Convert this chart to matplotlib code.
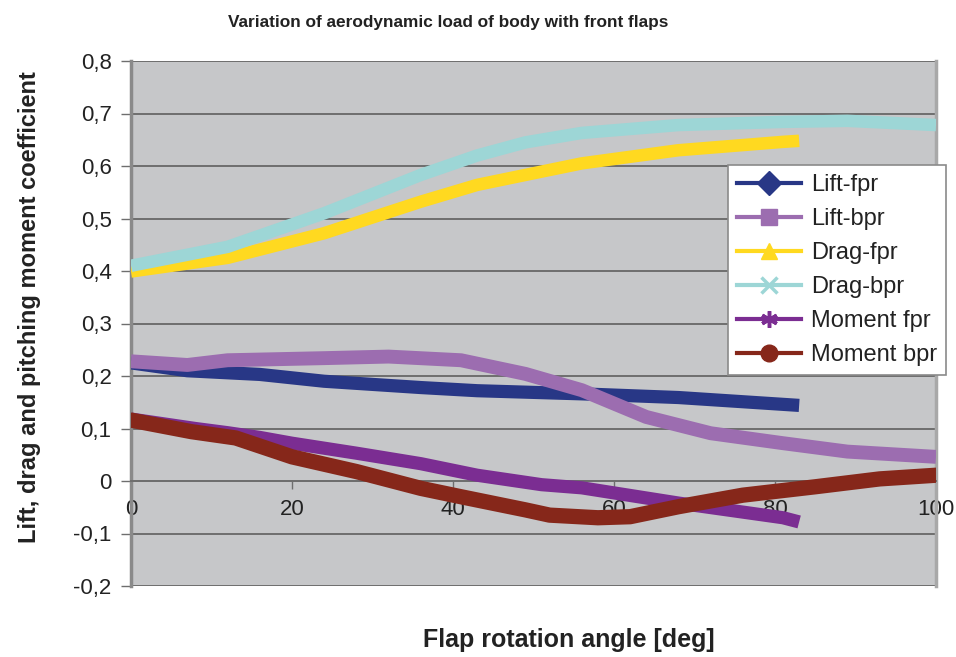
import matplotlib
matplotlib.use("Agg")
import matplotlib.pyplot as plt
from matplotlib.lines import Line2D

lift_fpr_x = [0, 7, 16, 24, 36, 43, 56, 68, 80, 83]
lift_fpr_y = [0.225, 0.210, 0.203, 0.190, 0.178, 0.172, 0.166, 0.159, 0.147, 0.144]

lift_bpr_x = [0, 7, 12, 24, 32, 41, 49, 56, 64, 72, 81, 89, 100]
lift_bpr_y = [0.228, 0.221, 0.230, 0.234, 0.237, 0.230, 0.204, 0.173, 0.122, 0.091, 0.072, 0.056, 0.046]

drag_fpr_x = [0, 12, 24, 36, 43, 49, 56, 68, 81, 83]
drag_fpr_y = [0.399, 0.425, 0.472, 0.532, 0.564, 0.583, 0.605, 0.630, 0.646, 0.648]

drag_bpr_x = [0, 12, 24, 36, 43, 49, 56, 68, 81, 89, 100]
drag_bpr_y = [0.410, 0.446, 0.510, 0.583, 0.620, 0.645, 0.663, 0.678, 0.684, 0.686, 0.678]

moment_fpr_x = [0, 8, 12, 16, 20, 28, 36, 43, 51, 56, 68, 81, 83]
moment_fpr_y = [0.118, 0.100, 0.092, 0.083, 0.072, 0.053, 0.033, 0.011, -0.007, -0.013,
                -0.042, -0.070, -0.078]

moment_bpr_x = [0, 7.5, 13, 20, 28, 36, 41, 49, 52, 58, 62, 68, 76, 85, 93, 100]
moment_bpr_y = [0.116, 0.094, 0.082, 0.046, 0.018, -0.014, -0.030, -0.055, -0.065, -0.070,
                -0.068, -0.049, -0.027, -0.011, 0.004, 0.011]

series_names = ["Lift-fpr", "Lift-bpr", "Drag-fpr", "Drag-bpr", "Moment fpr", "Moment bpr"]

x_ticks = [0, 20, 40, 60, 80, 100]
y_ticks = [-0.2, -0.1, 0, 0.1, 0.2, 0.3, 0.4, 0.5, 0.6, 0.7, 0.8]
y_labels = ["-0,2", "-0,1", "0", "0,1", "0,2", "0,3", "0,4", "0,5", "0,6", "0,7", "0,8"]

#     :: Style ::

colors = ["#283786", "#9c6db0", "#ffd920", "#9dd6d6", "#7b2d92", "#86271a"]
markers = ["D", "s", "^", "x", (6, 2, 0), "o"]

plt.rcParams["font.family"] = ["Liberation Sans", "DejaVu Sans"]

fig = plt.figure(figsize=(9.56, 6.57), dpi=100)
ax = fig.add_axes([131 / 956, 1 - 586 / 657, (936 - 131) / 956, (586 - 61) / 657])
ax.set_facecolor("#c6c7c9")

data = [(lift_fpr_x, lift_fpr_y), (lift_bpr_x, lift_bpr_y), (drag_fpr_x, drag_fpr_y),
        (drag_bpr_x, drag_bpr_y), (moment_fpr_x, moment_fpr_y), (moment_bpr_x, moment_bpr_y)]
widths = [9.5, 10, 9, 9, 9.5, 11]
for i, (xs, ys) in enumerate(data):
    cap = "round" if i == 5 else "butt"
    ax.plot(xs, ys, color=colors[i], lw=widths[i], solid_capstyle=cap,
            solid_joinstyle="round", zorder=3 + i)

ax.set_xlim(0, 100)
ax.set_ylim(-0.2, 0.8)
ax.set_yticks(y_ticks)
ax.set_yticklabels(y_labels)
ax.set_xticks(x_ticks)
ax.set_xticklabels([str(v) for v in x_ticks])
ax.yaxis.grid(True, color="#6e6e6e", lw=1.4, zorder=1)
ax.set_axisbelow(True)

ax.spines["bottom"].set_position(("data", 0))
ax.spines["bottom"].set_color("#6e6e6e")
ax.spines["bottom"].set_linewidth(1.4)
ax.spines["top"].set_visible(False)
ax.spines["left"].set_color("#8a8a8a")
ax.spines["left"].set_linewidth(2.5)
ax.spines["right"].set_color("#a8a8a8")
ax.spines["right"].set_linewidth(2.5)

ax.tick_params(axis="y", direction="out", length=7, width=1, color="#6e6e6e",
               labelsize=16, pad=7, labelcolor="#222222")
ax.tick_params(axis="x", direction="out", length=6, width=1, color="#6e6e6e",
               labelsize=16, pad=7, labelcolor="#222222")

handles = [Line2D([0], [0], color=colors[i], lw=3, marker=markers[i], markersize=12,
                  markeredgewidth=2.5 if i in (3, 4) else 1,
                  markeredgecolor=colors[i]) for i in range(6)]
leg = fig.legend(handles, series_names, loc="upper left",
                 bbox_to_anchor=(728 / 956, 1 - 165 / 657), borderaxespad=0,
                 fontsize=17, frameon=True, fancybox=False, framealpha=1,
                 handlelength=2.7, handletextpad=0.45, borderpad=0.38, labelspacing=0.51)
leg.get_frame().set_edgecolor("#8a8a8a")
leg.get_frame().set_linewidth(1.2)
for t in leg.get_texts():
    t.set_color("#222222")

fig.text(448 / 956, 1 - 22 / 657, "Variation of aerodynamic load of body with front flaps",
         ha="center", va="center", fontsize=12.4, fontweight="bold", color="#222222")
fig.text(569 / 956, 1 - 640 / 657, "Flap rotation angle [deg]", ha="center", va="center",
         fontsize=18, fontweight="bold", color="#222222")
fig.text(30 / 956, 1 - 307 / 657, "Lift, drag and pitching moment coefficient",
         ha="center", va="center", rotation=90, fontsize=17,
         fontweight="bold", color="#222222")

fig.savefig("out.png", dpi=100)
